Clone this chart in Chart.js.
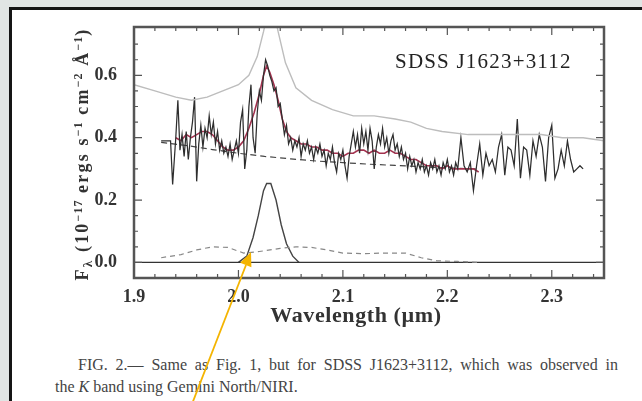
<!DOCTYPE html>
<html>
<head>
<meta charset="utf-8">
<script src="https://cdn.jsdelivr.net/npm/chart.js@4.4.1/dist/chart.umd.min.js"></script>
<style>
  html, body { margin: 0; padding: 0; }
  body { width: 642px; height: 401px; position: relative; overflow: hidden; background: #e1e5e4; font-family: "Liberation Serif", serif; }
  #page { position: absolute; left: 9px; top: 7px; width: 640px; height: 400px; background: #fff; border-top: 3px solid #151515; border-left: 3px solid #151515; }
  #chart { position: absolute; left: 0; top: 0; }
  #obj { position: absolute; left: 395px; top: 49px; font-size: 21px; color: #222; letter-spacing: 1.2px; white-space: nowrap; }
  #xtitle { position: absolute; left: 256px; width: 200px; top: 302px; text-align: center; font-size: 22px; font-weight: bold; color: #333; letter-spacing: 0.6px; white-space: nowrap; }
  #ytitle { position: absolute; left: -72px; top: 142px; width: 300px; height: 24px; line-height: 24px; text-align: center; transform: rotate(-90deg); transform-origin: 150px 12px; font-size: 18px; font-weight: bold; color: #333; letter-spacing: 2.2px; white-space: nowrap; }
  #ytitle sup { font-size: 12px; vertical-align: 6px; letter-spacing: 1px; }
  #ytitle sub { font-size: 13px; vertical-align: -4px; }
  .cap { position: absolute; font-size: 16px; line-height: 22px; color: #444; white-space: nowrap; }
  #cap1 { left: 78px; top: 354px; width: 540px; text-align: justify; text-align-last: justify; }
  #cap2 { left: 55px; top: 376px; }
  #arrow { position: absolute; left: 0; top: 0; }
</style>
</head>
<body>
<div id="page"></div>
<canvas id="chart" width="642" height="330"></canvas>
<div id="obj">SDSS J1623+3112</div>
<div id="xtitle">Wavelength (µm)</div>
<div id="ytitle">F<sub>λ</sub> (10<sup>−17</sup> ergs s<sup>−1</sup> cm<sup>−2</sup> Å<sup>−1</sup>)</div>
<div class="cap" id="cap1">FIG. 2.— Same as Fig. 1, but for SDSS J1623+3112, which was observed in</div>
<div class="cap" id="cap2">the <i>K</i> band using Gemini North/NIRI.</div>
<svg id="arrow" width="642" height="401">
  <line x1="192" y1="404" x2="246" y2="265" stroke="#f4b400" stroke-width="1.8"/>
  <polygon points="251,252 251.4,267.2 240.2,262.8" fill="#f4b400"/>
</svg>
<script>
// spectrum (black, noisy)
const specWave = [1.926, 1.935, 1.937, 1.940, 1.942, 1.944, 1.946, 1.948, 1.950, 1.952, 1.954, 1.956, 1.958, 1.960, 1.962, 1.964, 1.966, 1.968, 1.970, 1.972, 1.974, 1.976, 1.978, 1.980, 1.982, 1.984, 1.986, 1.988, 1.990, 1.992, 1.994, 1.996, 1.998, 2.000, 2.002, 2.004, 2.006, 2.008, 2.010, 2.012, 2.014, 2.016, 2.018, 2.020, 2.022, 2.024, 2.026, 2.028, 2.030, 2.032, 2.034, 2.036, 2.038, 2.040, 2.042, 2.044, 2.046, 2.048, 2.050, 2.052, 2.054, 2.056, 2.058, 2.060, 2.062, 2.064, 2.066, 2.068, 2.070, 2.072, 2.074, 2.076, 2.078, 2.080, 2.082, 2.084, 2.086, 2.088, 2.090, 2.092, 2.094, 2.096, 2.098, 2.100, 2.102, 2.104, 2.106, 2.108, 2.110, 2.112, 2.114, 2.116, 2.118, 2.120, 2.122, 2.124, 2.126, 2.128, 2.130, 2.132, 2.134, 2.136, 2.138, 2.140, 2.142, 2.144, 2.146, 2.148, 2.150, 2.152, 2.154, 2.156, 2.158, 2.160, 2.162, 2.164, 2.166, 2.168, 2.170, 2.172, 2.174, 2.176, 2.178, 2.180, 2.182, 2.184, 2.186, 2.188, 2.190, 2.192, 2.194, 2.196, 2.198, 2.200, 2.202, 2.204, 2.206, 2.208, 2.210, 2.213, 2.216, 2.219, 2.222, 2.225, 2.228, 2.231, 2.234, 2.237, 2.240, 2.243, 2.246, 2.249, 2.252, 2.255, 2.258, 2.261, 2.264, 2.267, 2.270, 2.273, 2.276, 2.279, 2.282, 2.285, 2.288, 2.291, 2.294, 2.297, 2.300, 2.303, 2.306, 2.309, 2.312, 2.315, 2.318, 2.321, 2.324, 2.327, 2.330]
const specFlux = [0.39, 0.39, 0.25, 0.40, 0.52, 0.36, 0.41, 0.34, 0.42, 0.33, 0.40, 0.45, 0.53, 0.26, 0.38, 0.44, 0.37, 0.43, 0.40, 0.47, 0.41, 0.45, 0.38, 0.42, 0.36, 0.39, 0.35, 0.37, 0.34, 0.38, 0.33, 0.36, 0.39, 0.35, 0.45, 0.49, 0.30, 0.36, 0.50, 0.57, 0.40, 0.35, 0.48, 0.55, 0.52, 0.60, 0.65, 0.63, 0.60, 0.58, 0.55, 0.56, 0.50, 0.51, 0.46, 0.41, 0.44, 0.38, 0.40, 0.36, 0.39, 0.37, 0.40, 0.34, 0.38, 0.36, 0.39, 0.35, 0.37, 0.33, 0.37, 0.35, 0.38, 0.34, 0.36, 0.31, 0.35, 0.33, 0.37, 0.32, 0.29, 0.35, 0.33, 0.36, 0.31, 0.27, 0.34, 0.38, 0.42, 0.37, 0.41, 0.35, 0.43, 0.38, 0.42, 0.36, 0.43, 0.39, 0.30, 0.37, 0.41, 0.38, 0.43, 0.37, 0.40, 0.35, 0.39, 0.41, 0.36, 0.38, 0.34, 0.37, 0.33, 0.35, 0.30, 0.34, 0.31, 0.33, 0.29, 0.32, 0.30, 0.33, 0.29, 0.31, 0.28, 0.32, 0.30, 0.33, 0.29, 0.31, 0.28, 0.32, 0.30, 0.33, 0.29, 0.31, 0.28, 0.32, 0.30, 0.40, 0.31, 0.29, 0.32, 0.23, 0.31, 0.38, 0.28, 0.35, 0.31, 0.33, 0.29, 0.37, 0.41, 0.28, 0.37, 0.36, 0.31, 0.46, 0.27, 0.37, 0.36, 0.28, 0.39, 0.34, 0.41, 0.37, 0.26, 0.40, 0.44, 0.27, 0.30, 0.36, 0.31, 0.39, 0.33, 0.29, 0.30, 0.31, 0.30]

// model fit (red)
const fitWave = [1.940, 1.945, 1.950, 1.955, 1.960, 1.965, 1.970, 1.975, 1.980, 1.985, 1.990, 1.995, 2.000, 2.005, 2.010, 2.015, 2.020, 2.024, 2.027, 2.030, 2.034, 2.038, 2.042, 2.046, 2.050, 2.055, 2.060, 2.065, 2.070, 2.075, 2.080, 2.085, 2.090, 2.095, 2.100, 2.105, 2.110, 2.115, 2.120, 2.125, 2.130, 2.135, 2.140, 2.145, 2.150, 2.155, 2.160, 2.165, 2.170, 2.175, 2.180, 2.185, 2.190, 2.195, 2.200, 2.205, 2.210, 2.215, 2.220, 2.225, 2.230]
const fitFlux = [0.40, 0.39, 0.41, 0.40, 0.41, 0.42, 0.42, 0.41, 0.39, 0.37, 0.36, 0.36, 0.37, 0.39, 0.43, 0.48, 0.54, 0.60, 0.63, 0.61, 0.57, 0.52, 0.46, 0.42, 0.40, 0.39, 0.38, 0.38, 0.37, 0.37, 0.36, 0.36, 0.35, 0.35, 0.34, 0.35, 0.35, 0.36, 0.36, 0.35, 0.36, 0.35, 0.35, 0.36, 0.35, 0.35, 0.34, 0.33, 0.33, 0.32, 0.31, 0.31, 0.31, 0.30, 0.31, 0.30, 0.30, 0.30, 0.30, 0.30, 0.29]

// continuum (dashed)
const contWave = [1.926, 1.950, 1.975, 2.000, 2.025, 2.050, 2.075, 2.100, 2.125, 2.150, 2.175, 2.200, 2.230]
const contFlux = [0.385, 0.375, 0.362, 0.350, 0.340, 0.332, 0.325, 0.320, 0.315, 0.311, 0.307, 0.303, 0.300]

// emission line component
const lineWave = [2.000, 2.008, 2.014, 2.019, 2.024, 2.027, 2.031, 2.036, 2.041, 2.046, 2.052, 2.058]
const lineFlux = [0.000, 0.020, 0.080, 0.150, 0.230, 0.253, 0.253, 0.200, 0.120, 0.060, 0.020, 0.000]

// error spectrum (dashed, bottom)
const noiseWave = [1.926, 1.945, 1.960, 1.975, 1.990, 2.005, 2.020, 2.040, 2.055, 2.070, 2.085, 2.100, 2.120, 2.140, 2.160, 2.175, 2.190, 2.210, 2.230]
const noiseFlux = [0.015, 0.025, 0.040, 0.050, 0.048, 0.030, 0.035, 0.045, 0.050, 0.048, 0.040, 0.030, 0.028, 0.030, 0.030, 0.015, 0.005, 0.003, 0.000]

// upper grey curve
const skyWave = [1.900, 1.920, 1.940, 1.955, 1.970, 1.985, 2.000, 2.010, 2.018, 2.024, 2.028, 2.033, 2.038, 2.045, 2.055, 2.070, 2.090, 2.110, 2.130, 2.150, 2.165, 2.180, 2.195, 2.220, 2.260, 2.290, 2.310, 2.330, 2.350]
const skyFlux = [0.57, 0.55, 0.53, 0.52, 0.53, 0.55, 0.57, 0.60, 0.66, 0.74, 0.80, 0.82, 0.74, 0.64, 0.56, 0.52, 0.49, 0.47, 0.47, 0.46, 0.45, 0.43, 0.42, 0.41, 0.41, 0.41, 0.40, 0.40, 0.39]

const zeroWave = [1.9, 2.35]
const zeroFlux = [0, 0]

const xTicks = [1.9, 2.0, 2.1, 2.2, 2.3]
const yTicks = [0.0, 0.2, 0.4, 0.6]

const toXY = (xs, ys) => xs.map((x, i) => ({ x, y: ys[i] }))
const tickFont = { family: "Liberation Serif", size: 18, weight: "bold" }

// frame with inward ticks
const framePlugin = {
  id: "frame",
  afterDatasetsDraw(chart) {
    const { ctx, chartArea: a, scales: { x, y } } = chart
    ctx.save()
    ctx.strokeStyle = "#555"
    ctx.lineWidth = 2.5
    ctx.strokeRect(a.left, a.top, a.right - a.left, a.bottom - a.top)
    ctx.lineWidth = 1.2
    ctx.beginPath()
    for (let v = 1.9; v <= 2.35; v += 0.02) {
      const px = x.getPixelForValue(v)
      const major = xTicks.some(t => Math.abs(t - v) < 1e-6)
      const len = major ? 8 : 4
      ctx.moveTo(px, a.bottom); ctx.lineTo(px, a.bottom - len)
      ctx.moveTo(px, a.top); ctx.lineTo(px, a.top + len)
    }
    for (let v = 0; v <= 0.75; v += 0.05) {
      const py = y.getPixelForValue(v)
      const major = yTicks.some(t => Math.abs(t - v) < 1e-6)
      const len = major ? 8 : 4
      ctx.moveTo(a.left, py); ctx.lineTo(a.left + len, py)
      ctx.moveTo(a.right, py); ctx.lineTo(a.right - len, py)
    }
    ctx.stroke()
    ctx.restore()
  }
}

new Chart(document.getElementById("chart"), {
  type: "line",
  data: {
    datasets: [
      { data: toXY(skyWave, skyFlux), borderColor: "#bdbdbd", borderWidth: 1.4 },
      { data: toXY(noiseWave, noiseFlux), borderColor: "#888", borderWidth: 1.2, borderDash: [5, 4] },
      { data: toXY(zeroWave, zeroFlux), borderColor: "#333", borderWidth: 1.3 },
      { data: toXY(lineWave, lineFlux), borderColor: "#444", borderWidth: 1.4 },
      { data: toXY(specWave, specFlux), borderColor: "#2e2e2e", borderWidth: 1.25 },
      { data: toXY(fitWave, fitFlux), borderColor: "#a3324f", borderWidth: 1.6 },
      { data: toXY(contWave, contFlux), borderColor: "#444", borderWidth: 1.2, borderDash: [6, 4] }
    ]
  },
  options: {
    responsive: false,
    animation: false,
    devicePixelRatio: 1,
    layout: { padding: { left: 68, right: 38, top: 27, bottom: 0 } },
    elements: { point: { radius: 0 }, line: { tension: 0 } },
    plugins: { legend: { display: false }, tooltip: { enabled: false } },
    scales: {
      x: {
        type: "linear", min: 1.9, max: 2.35,
        afterBuildTicks: s => { s.ticks = xTicks.map(v => ({ value: v })) },
        afterFit: s => { s.height = 52 },
        grid: { display: false }, border: { display: false },
        ticks: { font: tickFont, color: "#333", padding: 1, maxRotation: 0, autoSkip: false, callback: v => v.toFixed(1) }
      },
      y: {
        type: "linear", min: -0.05, max: 0.755,
        afterBuildTicks: s => { s.ticks = yTicks.map(v => ({ value: v })) },
        afterFit: s => { s.width = 66 },
        grid: { display: false }, border: { display: false },
        ticks: { font: tickFont, color: "#333", padding: 9, callback: v => v.toFixed(1) }
      }
    }
  },
  plugins: [framePlugin]
})
</script>
</body>
</html>
